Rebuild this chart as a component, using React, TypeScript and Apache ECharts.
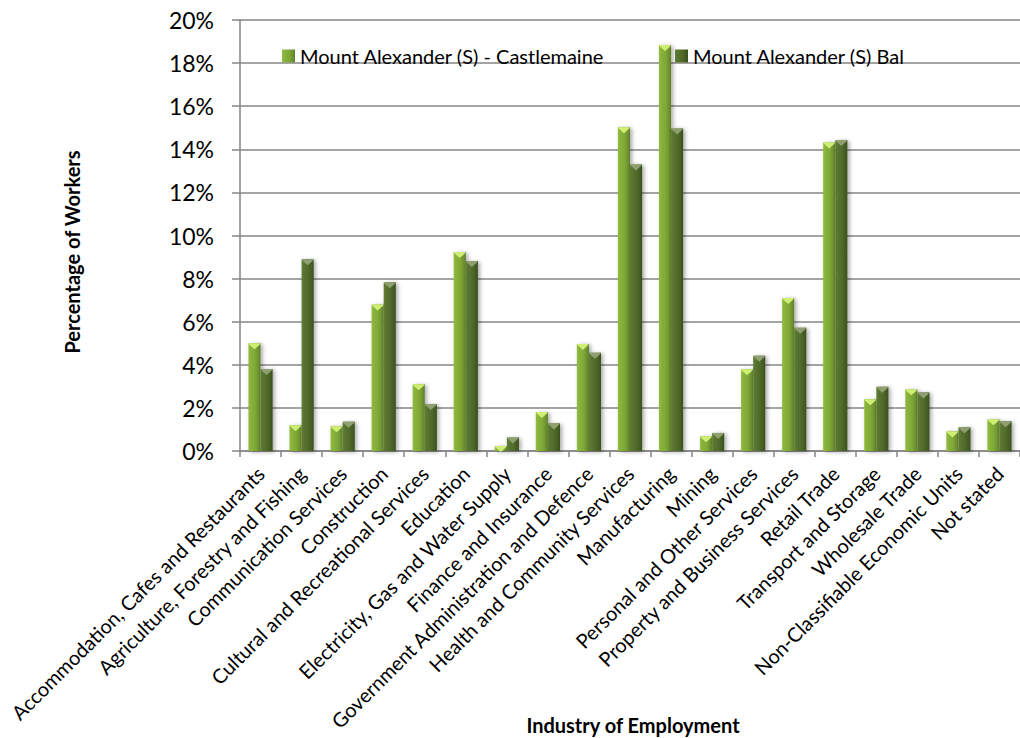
import React, { useEffect, useRef } from "react";
import * as echarts from "echarts";

// Industry categories along the x axis
const industries = [
  "Accommodation, Cafes and Restaurants",
  "Agriculture, Forestry and Fishing",
  "Communication Services",
  "Construction",
  "Cultural and Recreational Services",
  "Education",
  "Electricity, Gas and Water Supply",
  "Finance and Insurance",
  "Government Administration and Defence",
  "Health and Community Services",
  "Manufacturing",
  "Mining",
  "Personal and Other Services",
  "Property and Business Services",
  "Retail Trade",
  "Transport and Storage",
  "Wholesale Trade",
  "Non-Classifiable Economic Units",
  "Not stated",
];

// Share of workers (%) per industry
const castlemaine = [
  5.0, 1.2, 1.15, 6.8, 3.1, 9.23, 0.23, 1.81, 4.97, 15.02, 18.84, 0.68, 3.79,
  7.1, 14.32, 2.4, 2.86, 0.91, 1.47,
];
const bal = [
  3.8, 8.9, 1.36, 7.83, 2.18, 8.82, 0.63, 1.28, 4.56, 13.3, 14.97, 0.84, 4.42,
  5.72, 14.43, 2.98, 2.72, 1.1, 1.38,
];

const seriesNames = ["Mount Alexander (S) - Castlemaine", "Mount Alexander (S) Bal"];

// y-axis ticks (percent)
const yMin = 0;
const yMax = 20;
const yStep = 2;

const FONT = "Lato, 'Open Sans', sans-serif";
const AXIS_GREY = "#868686";
const CAT_GAP = "41%";

const lightGrad = new echarts.graphic.LinearGradient(0, 0, 1, 0, [
  { offset: 0, color: "#93bd42" },
  { offset: 0.15, color: "#8ab53b" },
  { offset: 0.55, color: "#7fa836" },
  { offset: 0.85, color: "#6c9030" },
  { offset: 1, color: "#5d7f28" },
]);
const darkGrad = new echarts.graphic.LinearGradient(0, 0, 1, 0, [
  { offset: 0, color: "#627f36" },
  { offset: 0.15, color: "#5a7630" },
  { offset: 0.55, color: "#506a2b" },
  { offset: 0.85, color: "#435a23" },
  { offset: 1, color: "#3a4f1e" },
]);

// bevelled top: a thin lip plus a downward pointing triangle
const bevel = "path://M0,0 L12,0 L12,1.2 L6,6 L0,1.2 Z";

export default function App() {
  const ref = useRef<HTMLDivElement>(null);

  useEffect(() => {
    if (!ref.current) return;
    const chart = echarts.init(ref.current, null, { renderer: "svg" });

    const barCommon = {
      type: "bar" as const,
      barGap: "0%",
      barCategoryGap: CAT_GAP,
      z: 2,
    };
    const capCommon = {
      type: "pictorialBar" as const,
      barGap: "0%",
      barCategoryGap: CAT_GAP,
      symbol: bevel,
      symbolSize: ["88%", 6],
      symbolPosition: "end",
      symbolOffset: [0, 0],
      z: 4,
      silent: true,
    };

    const legendBase = {
      top: 41,
      itemWidth: 13,
      itemHeight: 13,
      itemGap: 6,
      icon: "rect",
      textStyle: { fontFamily: FONT, fontSize: 20, color: "#000" },
    };

    chart.setOption({
      animation: false,
      backgroundColor: "#ffffff",
      textStyle: { fontFamily: FONT },
      grid: { left: 240, top: 20, width: 787, height: 431 },
      legend: [
        { ...legendBase, data: [seriesNames[0]], left: 277 },
        { ...legendBase, data: [seriesNames[1]], left: 670 },
      ],
      xAxis: {
        type: "category",
        data: industries,
        boundaryGap: true,
        axisLine: { show: true, lineStyle: { color: AXIS_GREY, width: 1.5 } },
        axisTick: {
          show: true,
          alignWithLabel: false,
          length: 6,
          lineStyle: { color: AXIS_GREY, width: 1.5 },
        },
        axisLabel: {
          interval: 0,
          rotate: 45,
          margin: 19,
          fontFamily: FONT,
          fontSize: 20,
          color: "#000",
        },
        splitLine: { show: false },
      },
      yAxis: {
        type: "value",
        min: yMin,
        max: yMax,
        interval: yStep,
        axisLine: { show: true, lineStyle: { color: AXIS_GREY, width: 1.5 } },
        axisTick: { show: true, length: 8, lineStyle: { color: AXIS_GREY, width: 1.5 } },
        axisLabel: {
          formatter: "{value}%",
          margin: 26,
          fontFamily: FONT,
          fontSize: 23,
          color: "#000",
        },
        splitLine: { show: true, lineStyle: { color: AXIS_GREY, width: 1.5 } },
      },
      series: [
        {
          ...barCommon,
          name: seriesNames[0],
          data: castlemaine,
          itemStyle: {
            color: lightGrad,
            shadowBlur: 4,
            shadowOffsetX: 2,
            shadowOffsetY: 1,
            shadowColor: "rgba(0,0,0,0.35)",
          },
        },
        {
          ...barCommon,
          name: seriesNames[1],
          data: bal,
          itemStyle: {
            color: darkGrad,
            shadowBlur: 4,
            shadowOffsetX: 2,
            shadowOffsetY: 1,
            shadowColor: "rgba(0,0,0,0.35)",
          },
        },
        {
          ...capCommon,
          name: "castlemaine-cap",
          data: castlemaine,
          itemStyle: { color: "#cfee74" },
        },
        {
          ...capCommon,
          name: "bal-cap",
          data: bal,
          itemStyle: { color: "#8f9f70" },
        },
      ],
      graphic: [
        {
          type: "text",
          x: 72,
          y: 252,
          rotation: Math.PI / 2,
          style: {
            text: "Percentage of Workers",
            font: `bold 20px ${FONT}`,
            fill: "#000",
            align: "center",
            verticalAlign: "middle",
          },
        },
        {
          type: "text",
          x: 633,
          y: 725,
          style: {
            text: "Industry of Employment",
            font: `bold 20px ${FONT}`,
            fill: "#000",
            align: "center",
            verticalAlign: "middle",
          },
        },
      ],
    });

    return () => chart.dispose();
  }, []);

  return (
    <div
      ref={ref}
      style={{ position: "absolute", left: 0, top: 0, width: 1020, height: 738 }}
    />
  );
}
